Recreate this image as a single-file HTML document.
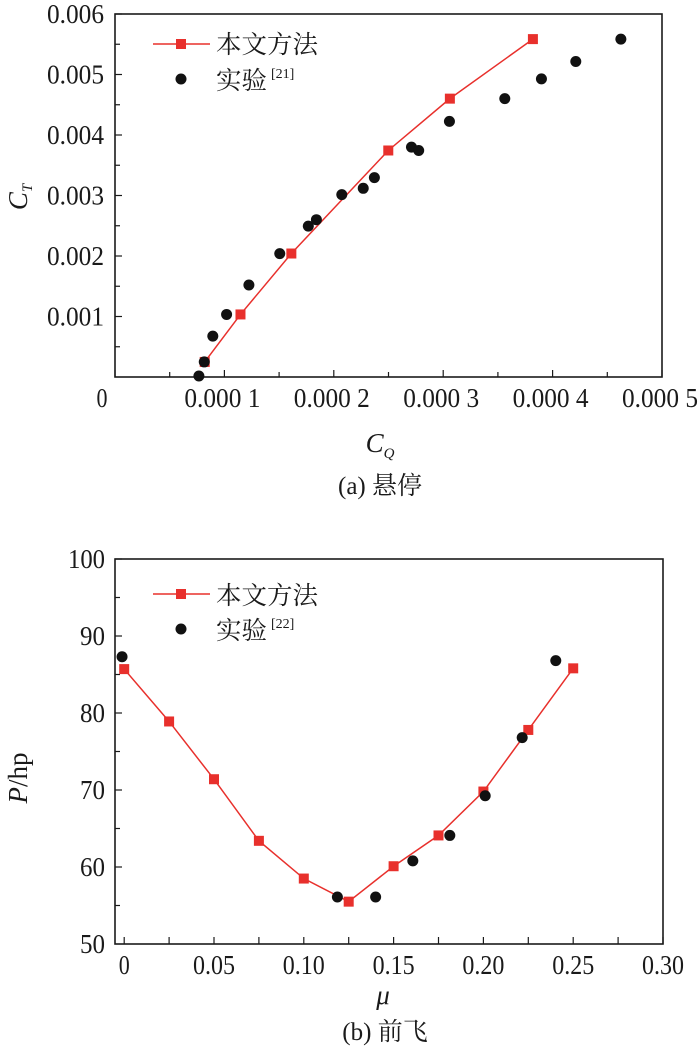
<!DOCTYPE html>
<html><head><meta charset="utf-8">
<style>
html,body{margin:0;padding:0;background:#fff;}
svg{display:block;}
text{font-family:"Liberation Serif","Noto Serif CJK SC","Noto Sans CJK SC",serif;fill:#1a1a1a;}
</style></head>
<body>
<svg id="fig" width="700" height="1054" viewBox="0 0 700 1054" xmlns="http://www.w3.org/2000/svg">
</svg>
<script>
// ---------- Chart (a) hover data ----------
const aMethodCQ = [0.0000820, 0.0001147, 0.0001612, 0.0002498, 0.0003061, 0.000382];
const aMethodCT = [0.000249, 0.001034, 0.002041, 0.003744, 0.004601, 0.005585];
const aExpCQ = [0.0000767, 0.0000816, 0.0000894, 0.000102, 0.0001224, 0.0001506, 0.0001767, 0.0001841, 0.0002073, 0.0002269, 0.0002371, 0.000271, 0.0002776, 0.0003057, 0.0003563, 0.0003898, 0.0004212, 0.0004624];
const aExpCT = [0.000017, 0.000249, 0.000675, 0.001034, 0.00152, 0.00204, 0.002494, 0.0026, 0.003014, 0.003119, 0.003296, 0.0038, 0.003744, 0.004225, 0.004601, 0.004927, 0.005215, 0.005585];
const aXTicks = [0, 0.0001, 0.0002, 0.0003, 0.0004, 0.0005];
const aXTickLabels = ["0", "0.000 1", "0.000 2", "0.000 3", "0.000 4", "0.000 5"];
const aYTicks = [0.001, 0.002, 0.003, 0.004, 0.005, 0.006];
const aYTickLabels = ["0.001", "0.002", "0.003", "0.004", "0.005", "0.006"];

// ---------- Chart (b) forward flight data ----------
const bMethodMu = [0, 0.025, 0.05, 0.075, 0.10, 0.125, 0.15, 0.175, 0.20, 0.225, 0.25];
const bMethodP = [85.7, 78.9, 71.4, 63.4, 58.5, 55.5, 60.1, 64.1, 69.8, 77.8, 85.8];
const bExpMu = [-0.0012, 0.1187, 0.140, 0.1607, 0.1813, 0.201, 0.2216, 0.2403];
const bExpP = [87.3, 56.1, 56.1, 60.8, 64.1, 69.25, 76.8, 86.8];
const bXTicks = [0, 0.05, 0.10, 0.15, 0.20, 0.25, 0.30];
const bXTickLabels = ["0", "0.05", "0.10", "0.15", "0.20", "0.25", "0.30"];
const bYTicks = [50, 60, 70, 80, 90, 100];
const bYTickLabels = ["50", "60", "70", "80", "90", "100"];

const NS = "http://www.w3.org/2000/svg";
const svg = document.getElementById('fig');
function mk(tag, attrs, parent, txt){
  const e = document.createElementNS(NS, tag);
  for (const k in attrs) e.setAttribute(k, attrs[k]);
  if (txt !== undefined) e.textContent = txt;
  (parent || svg).appendChild(e);
  return e;
}

// scales
const aX = v => 115 + (v - 0) / 0.0005 * (662 - 115);
const aY = v => 377 - v / 0.006 * (377 - 14);
const bX = v => 124.2 + v / 0.30 * (663 - 124.2);
const bY = v => 944 - (v - 50) / 50 * (944 - 559);

// ===== Chart A =====
const gA = mk('g', {});


const boxA = mk('rect', {x:115, y:14, width:547, height:363, fill:'none', stroke:'#1a1a1a', 'stroke-width':1.6}, gA);


// x ticks (major + minor)
for (let i = 0; i <= 10; i++) {
  const v = i * 0.00005;
  const t = mk('line', {x1:aX(v), x2:aX(v), y1:377, y2:377 - (i % 2 === 0 ? 7 : 5), stroke:'#1a1a1a', 'stroke-width':1.2}, gA);
  
  
}
aXTicks.forEach((v, i) => {
  const isZero = i === 0;
  const attrs = {x: isZero ? 102 : aX(v) - 2, y: 407, 'font-size': 27, 'text-anchor':'middle'};
  if (!isZero) { attrs.textLength = 76; attrs.lengthAdjust = 'spacingAndGlyphs'; }
  else { attrs.textLength = 11; attrs.lengthAdjust = 'spacingAndGlyphs'; }
  const t = mk('text', attrs, gA, aXTickLabels[i]);
  
  
});
// y ticks
for (let i = 1; i <= 12; i++) {
  const v = i * 0.0005;
  const t = mk('line', {x1:115, x2:115 + (i % 2 === 0 ? 7 : 5), y1:aY(v), y2:aY(v), stroke:'#1a1a1a', 'stroke-width':1.2}, gA);
  
  
}
aYTicks.forEach((v, i) => {
  const t = mk('text', {x:104, y:aY(v) + 9, 'font-size':27, 'text-anchor':'end', textLength:57, lengthAdjust:'spacingAndGlyphs'}, gA, aYTickLabels[i]);
  
  
});
// line + squares
const aPts = aMethodCQ.map((v, i) => aX(v) + ',' + aY(aMethodCT[i])).join(' ');
const aLine = mk('polyline', {points:aPts, fill:'none', stroke:'#e8302c', 'stroke-width':1.5}, gA);


aMethodCQ.forEach((v, i) => {
  const r = mk('rect', {x:aX(v) - 5, y:aY(aMethodCT[i]) - 5, width:10, height:10, fill:'#e8302c'}, gA);
  
  
});
aExpCQ.forEach((v, i) => {
  const c = mk('circle', {cx:aX(v), cy:aY(aExpCT[i]), r:5.5, fill:'#111'}, gA);
  
  
});
// legend A
const lgA = mk('g', {}, gA);


mk('line', {x1:153, x2:210, y1:44, y2:44, stroke:'#e8302c', 'stroke-width':1.5}, lgA);
mk('rect', {x:176, y:39, width:10, height:10, fill:'#e8302c'}, lgA);
const la1 = mk('text', {x:216, y:53, 'font-size':25, textLength:102, lengthAdjust:'spacingAndGlyphs'}, lgA, '本文方法');


mk('circle', {cx:181, cy:79, r:5.5, fill:'#111'}, lgA);
const la2 = mk('text', {x:216, y:89, 'font-size':25, textLength:51, lengthAdjust:'spacingAndGlyphs'}, lgA, '实验');


mk('text', {x:271, y:78, 'font-size':14}, lgA, '[21]');
// axis titles A
const atY = mk('text', {x:0, y:0, 'font-size':27, 'font-style':'italic', transform:'translate(27,197) rotate(-90)', 'text-anchor':'middle'}, gA);


atY.innerHTML = 'C<tspan font-size="15" dy="5">T</tspan>';
const atX = mk('text', {x:380, y:452, 'font-size':27, 'font-style':'italic', 'text-anchor':'middle'}, gA);


atX.innerHTML = 'C<tspan font-size="15" dy="6">Q</tspan>';
const capA = mk('text', {x:380, y:494, 'font-size':25, 'text-anchor':'middle'}, gA, '(a) 悬停');



// ===== Chart B =====
const gB = mk('g', {});


const boxB = mk('rect', {x:115, y:559, width:548, height:385, fill:'none', stroke:'#1a1a1a', 'stroke-width':1.6}, gB);


for (let i = 0; i <= 12; i++) {
  const v = i * 0.025;
  const t = mk('line', {x1:bX(v), x2:bX(v), y1:944, y2:937, stroke:'#1a1a1a', 'stroke-width':1.2}, gB);
  
  
}
bXTicks.forEach((v, i) => {
  const w = i === 0 ? 11 : 42;
  const t = mk('text', {x:bX(v), y:974, 'font-size':27, 'text-anchor':'middle', textLength:w, lengthAdjust:'spacingAndGlyphs'}, gB, bXTickLabels[i]);
  
  
});
for (let i = 1; i <= 10; i++) {
  const v = 50 + i * 5;
  const t = mk('line', {x1:115, x2:115 + (i % 2 === 0 ? 7 : 5), y1:bY(v), y2:bY(v), stroke:'#1a1a1a', 'stroke-width':1.2}, gB);
  
  
}
bYTicks.forEach((v, i) => {
  const w = bYTickLabels[i].length === 3 ? 37 : 25;
  const t = mk('text', {x:105, y:bY(v) + 9, 'font-size':27, 'text-anchor':'end', textLength:w, lengthAdjust:'spacingAndGlyphs'}, gB, bYTickLabels[i]);
  
  
});
const bPts = bMethodMu.map((v, i) => bX(v) + ',' + bY(bMethodP[i])).join(' ');
const bLine = mk('polyline', {points:bPts, fill:'none', stroke:'#e8302c', 'stroke-width':1.5}, gB);


bMethodMu.forEach((v, i) => {
  const r = mk('rect', {x:bX(v) - 5, y:bY(bMethodP[i]) - 5, width:10, height:10, fill:'#e8302c'}, gB);
  
  
});
bExpMu.forEach((v, i) => {
  const c = mk('circle', {cx:bX(v), cy:bY(bExpP[i]), r:5.5, fill:'#111'}, gB);
  
  
});
const lgB = mk('g', {}, gB);


mk('line', {x1:153, x2:210, y1:594, y2:594, stroke:'#e8302c', 'stroke-width':1.5}, lgB);
mk('rect', {x:176, y:589, width:10, height:10, fill:'#e8302c'}, lgB);
const lb1 = mk('text', {x:216, y:604, 'font-size':25, textLength:102, lengthAdjust:'spacingAndGlyphs'}, lgB, '本文方法');


mk('circle', {cx:181, cy:629, r:5.5, fill:'#111'}, lgB);
const lb2 = mk('text', {x:216, y:639, 'font-size':25, textLength:51, lengthAdjust:'spacingAndGlyphs'}, lgB, '实验');


mk('text', {x:271, y:628, 'font-size':14}, lgB, '[22]');
const btY = mk('text', {x:0, y:0, 'font-size':27, transform:'translate(27,778) rotate(-90)', 'text-anchor':'middle'}, gB);


btY.innerHTML = '<tspan font-style="italic">P</tspan>/hp';
const btX = mk('text', {x:383, y:1004, 'font-size':27, 'font-style':'italic', 'text-anchor':'middle'}, gB, 'μ');


const capB = mk('text', {x:385, y:1040, 'font-size':25, 'text-anchor':'middle'}, gB, '(b) 前飞');


</script>
</body></html>
